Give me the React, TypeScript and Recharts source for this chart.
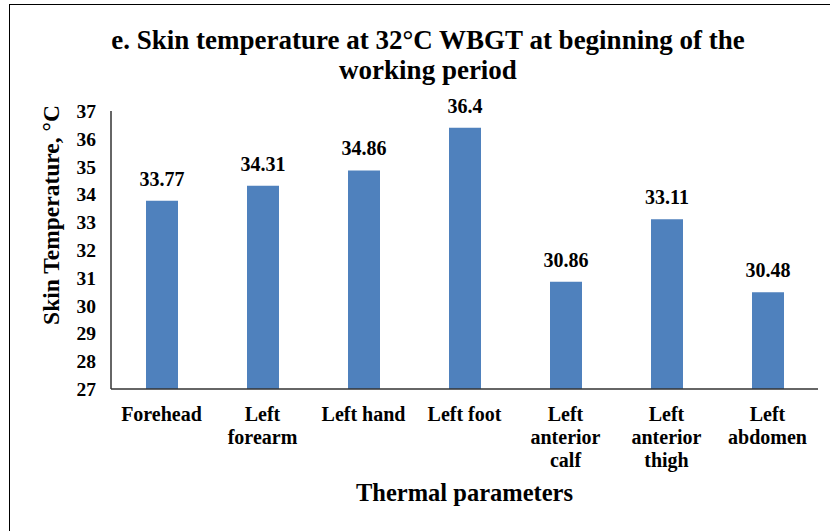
import { BarChart, Bar, XAxis, YAxis, LabelList } from 'recharts';

const categories = ['Forehead', 'Left\nforearm', 'Left hand', 'Left foot', 'Left\nanterior\ncalf', 'Left\nanterior\nthigh', 'Left\nabdomen'];
const skinTemp = [33.77, 34.31, 34.86, 36.4, 30.86, 33.11, 30.48];
const yTicks = [27, 28, 29, 30, 31, 32, 33, 34, 35, 36, 37];

const chartData = categories.map((name, i) => ({ name, value: skinTemp[i] }));

const FONT = '"Liberation Serif", "Times New Roman", serif';

// multi-line category labels, like Excel wraps them
function CategoryTick(props: any) {
  const { x, y, payload } = props;
  const lines: string[] = String(payload.value).split('\n');
  return (
    <text x={x} y={y + 24} textAnchor="middle" fontFamily={FONT} fontWeight="bold" fontSize={20} fill="#000">
      {lines.map((line, i) => (
        <tspan key={i} x={x} dy={i === 0 ? 0 : 23}>{line}</tspan>
      ))}
    </text>
  );
}

export default function App() {
  return (
    <div style={{ position: 'absolute', left: 0, top: 0, width: 830, height: 531, background: '#fff', overflow: 'hidden', fontFamily: FONT }}>
      <div style={{ position: 'absolute', left: 9, top: 4, width: 900, height: 600, borderLeft: '1.5px solid #000', borderTop: '1.5px solid #000' }} />
      <div style={{ position: 'absolute', left: 28, top: 25, width: 800, textAlign: 'center', fontWeight: 'bold', fontSize: 27, lineHeight: '30px', color: '#000' }}>
        e. Skin temperature at 32°C WBGT at beginning of the<br />working period
      </div>
      <div style={{ position: 'absolute', left: 0, top: 0 }}>
        <BarChart width={830} height={531} data={chartData} margin={{ top: 111, right: 12, bottom: 42, left: 0 }}>
          <XAxis
            dataKey="name"
            axisLine={{ stroke: '#333', strokeWidth: 1.5 }}
            tickLine={false}
            interval={0}
            height={100}
            tick={<CategoryTick />}
            label={{
              content: (p: any) => {
                const vb = p.viewBox;
                return (
                  <text x={vb.x + vb.width / 2} y={501} textAnchor="middle" fontFamily={FONT} fontWeight="bold" fontSize={24.5} fill="#000">
                    Thermal parameters
                  </text>
                );
              },
            }}
          />
          <YAxis
            domain={[27, 37]}
            ticks={yTicks}
            interval={0}
            width={111}
            axisLine={{ stroke: '#333', strokeWidth: 1.5 }}
            tickLine={false}
            tickMargin={9}
            tick={{ fontFamily: FONT, fontWeight: 'bold', fontSize: 19.5, fill: '#000' }}
            label={{
              content: () => (
                <text x={59} y={215} transform="rotate(-90 59 215)" textAnchor="middle" fontFamily={FONT} fontWeight="bold" fontSize={23.5} fill="#000">
                  Skin Temperature, °C
                </text>
              ),
            }}
          />
          <Bar dataKey="value" fill="#4F81BD" barSize={32} isAnimationActive={false}>
            <LabelList dataKey="value" position="top" offset={15} fontFamily={FONT} fontWeight="bold" fontSize={20} fill="#000" />
          </Bar>
        </BarChart>
      </div>
    </div>
  );
}
